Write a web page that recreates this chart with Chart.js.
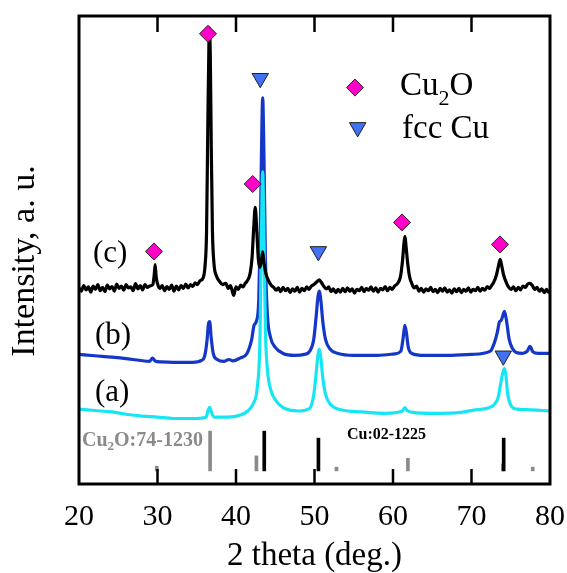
<!DOCTYPE html>
<html>
<head>
<meta charset="utf-8">
<script src="https://cdn.jsdelivr.net/npm/chart.js@4.4.1/dist/chart.umd.min.js"></script>
<style>
  html, body { margin: 0; padding: 0; background: #fff; }
  canvas { display: block; }
</style>
</head>
<body>
<canvas id="xrdChart" width="567" height="573"></canvas>
<script>
const SERIF = '"Liberation Serif", "Times New Roman", serif';

const tickValues = [20, 30, 40, 50, 60, 70, 80];

// XRD patterns, [2 theta, intensity a.u.]
// (a) cyan
const traceA = [
  [20, 16.0], [22, 15.7], [24.2, 15.4], [26, 14.9], [28, 14.5], [30, 14.3], [32, 14.0], [35, 14.0],
  [36.2, 14.3], [36.45, 15.8], [36.65, 16.4], [36.85, 15.4], [37.2, 14.3], [39, 14.3], [40.5, 14.7],
  [41.5, 15.6], [42.2, 17.2], [42.7, 20.5], [43.05, 30.7], [43.25, 54], [43.4, 66.7], [43.55, 54],
  [43.75, 32.8], [44.0, 24.5], [44.4, 20.3], [45.0, 18.0], [46.0, 16.3], [48, 15.6], [49.4, 16.2],
  [49.9, 19.0], [50.2, 23.5], [50.45, 27.7], [50.6, 28.8], [50.8, 27.1], [51.05, 22.8], [51.4, 19.2],
  [52, 17.1], [53.5, 15.8], [56, 15.4], [59, 15.1], [61.2, 15.6], [61.5, 16.3], [61.8, 15.7],
  [62.5, 15.3], [65, 15.1], [68, 15.2], [70.3, 15.8], [72.2, 16.3], [72.9, 17.0], [73.4, 18.5],
  [73.65, 20.8], [73.95, 23.5], [74.2, 24.7], [74.4, 23.0], [74.6, 19.4], [75.1, 16.6], [75.8, 16.0],
  [77, 15.9], [80, 15.6]
];
// (b) blue
const traceB = [
  [20, 27.7], [22, 27.4], [24.2, 27.1], [26.5, 26.7], [29.0, 26.2], [29.35, 26.9], [29.7, 26.3],
  [30.5, 26.1], [32, 26.0], [34.5, 26.0], [35.6, 26.4], [36.0, 27.3], [36.3, 30.5], [36.5, 34.3],
  [36.65, 34.7], [36.85, 31.1], [37.1, 27.9], [37.6, 26.6], [38.5, 26.2], [39.1, 26.6], [39.6, 26.3],
  [40.5, 26.9], [41.4, 27.9], [42.0, 30.9], [42.3, 33.9], [42.6, 34.8], [42.9, 39.4], [43.1, 54.4],
  [43.25, 71.4], [43.4, 82.5], [43.55, 71.4], [43.75, 48.0], [44.0, 36.2], [44.4, 31.3], [45.0, 29.2],
  [46.0, 27.9], [47.5, 27.5], [48.7, 27.7], [49.4, 28.4], [49.9, 30.9], [50.2, 35.6], [50.45, 40.1],
  [50.6, 41.2], [50.8, 39.4], [51.05, 34.8], [51.4, 30.9], [52.0, 28.8], [53.0, 27.9], [55, 27.5],
  [58, 27.5], [60.2, 27.8], [61.0, 28.4], [61.3, 31.3], [61.5, 33.9], [61.7, 32.4], [61.95, 29.2],
  [62.4, 27.9], [64, 27.5], [67, 27.5], [70, 27.7], [72.4, 28.4], [72.9, 30.1], [73.3, 32.5],
  [73.55, 34.6], [73.8, 35.0], [74.2, 36.9], [74.45, 35.0], [74.8, 30.9], [75.2, 29.0], [75.7, 28.1],
  [76.5, 27.9], [77.1, 28.4], [77.45, 29.4], [77.8, 28.3], [78.5, 27.9], [80, 27.9]
];
// (c) black, noisy
const traceC = [
  [20.0, 41.9], [20.3, 41.2], [20.6, 42.4], [20.9, 41.5], [21.2, 42.1], [21.5, 41.0], [21.8, 42.3],
  [22.1, 41.6], [22.4, 42.6], [22.7, 41.3], [23.0, 42.0], [23.3, 41.1], [23.6, 42.5], [23.9, 41.7],
  [24.2, 42.2], [24.5, 41.2], [24.8, 42.7], [25.1, 41.8], [25.4, 42.3], [25.7, 41.4], [26.0, 42.6],
  [26.3, 41.9], [26.6, 42.1], [26.9, 41.3], [27.2, 42.8], [27.5, 41.7], [27.8, 42.4], [28.1, 41.5],
  [28.4, 42.6], [28.7, 42.0], [29.0, 42.3], [29.4, 42.6], [29.58, 44.6], [29.7, 46.9], [29.82, 44.4],
  [30.0, 42.8], [30.3, 41.8], [30.6, 42.4], [30.9, 41.3], [31.2, 42.2], [31.5, 41.6], [31.8, 42.5],
  [32.1, 41.2], [32.4, 42.3], [32.7, 41.5], [33.0, 42.4], [33.3, 41.8], [33.6, 42.7], [33.9, 41.9],
  [34.2, 42.6], [34.5, 42.2], [34.8, 43.0], [35.1, 42.6], [35.4, 43.4], [35.8, 44.0], [36.05, 46.5],
  [36.25, 54], [36.4, 75], [36.55, 94], [36.62, 97.4], [36.72, 92], [36.85, 72], [37.0, 54],
  [37.2, 47], [37.5, 44.5], [37.9, 43.3], [38.3, 42.6], [38.7, 42.9], [39.0, 41.8], [39.3, 42.4],
  [39.7, 40.3], [40.0, 42.1], [40.3, 41.6], [40.6, 42.5], [40.9, 42.1], [41.15, 42.8], [41.4, 43.3],
  [41.8, 45.0], [42.05, 48.5], [42.25, 54.5], [42.45, 59.1], [42.65, 54], [42.85, 48], [43.05, 46.3],
  [43.25, 48.0], [43.4, 49.6], [43.55, 47.5], [43.8, 45.0], [44.1, 43.6], [44.5, 42.4], [44.8, 42.0],
  [45.1, 41.4], [45.4, 41.9], [45.7, 41.1], [46.0, 42.0], [46.3, 41.3], [46.6, 41.8], [46.9, 40.9],
  [47.2, 41.7], [47.5, 41.2], [47.8, 42.0], [48.1, 41.0], [48.4, 41.8], [48.7, 41.3], [49.0, 42.1],
  [49.3, 41.6], [49.6, 42.3], [49.9, 42.6], [50.3, 43.2], [50.6, 43.6], [50.9, 43.0], [51.2, 42.2],
  [51.5, 41.7], [51.8, 42.1], [52.1, 41.1], [52.4, 41.7], [52.7, 40.9], [53.0, 41.6], [53.3, 41.0],
  [53.6, 41.8], [53.9, 41.1], [54.2, 41.9], [54.5, 41.2], [54.8, 41.7], [55.1, 40.8], [55.4, 41.6],
  [55.7, 41.3], [56.0, 42.0], [56.3, 41.1], [56.6, 41.8], [56.9, 41.4], [57.2, 42.1], [57.5, 41.2],
  [57.8, 41.9], [58.1, 41.0], [58.4, 41.8], [58.7, 41.5], [59.0, 42.2], [59.3, 41.3], [59.6, 42.0],
  [59.9, 41.6], [60.2, 42.3], [60.6, 42.9], [60.95, 44.3], [61.2, 47.5], [61.4, 51.5], [61.52, 52.9],
  [61.65, 51], [61.85, 47.5], [62.1, 44.4], [62.4, 42.8], [62.7, 41.9], [63.0, 42.3], [63.3, 41.2],
  [63.6, 41.8], [63.9, 41.0], [64.2, 41.7], [64.5, 41.3], [64.8, 42.0], [65.1, 41.1], [65.4, 41.6],
  [65.7, 40.9], [66.0, 41.8], [66.3, 41.2], [66.6, 41.9], [66.9, 41.0], [67.2, 41.5], [67.5, 40.8],
  [67.8, 41.7], [68.1, 41.1], [68.4, 41.8], [68.7, 40.9], [69.0, 41.6], [69.3, 41.2], [69.6, 41.9],
  [69.9, 41.0], [70.2, 41.6], [70.5, 41.3], [70.8, 42.0], [71.1, 41.2], [71.4, 41.8], [71.7, 41.4],
  [72.0, 42.2], [72.3, 41.8], [72.55, 42.4], [72.8, 43.0], [73.15, 44.5], [73.4, 46.3], [73.65, 48.0],
  [73.85, 46.6], [74.1, 44.6], [74.45, 43.0], [74.75, 42.0], [75.05, 41.6], [75.35, 42.1], [75.65, 41.3],
  [75.95, 42.0], [76.25, 41.5], [76.55, 42.3], [76.85, 42.0], [77.15, 42.7], [77.45, 42.9], [77.75, 42.4],
  [78.05, 41.6], [78.35, 42.0], [78.65, 41.2], [78.95, 41.7], [79.25, 40.9], [79.55, 41.6], [79.8, 41.0],
  [80.0, 41.3]
];

// phase markers
const cu2oMarkTheta = [29.55, 36.43, 42.13, 61.15, 73.63];
const cu2oMarkY = [49.7, 96.2, 64.1, 55.9, 51.2];
const cuMarkTheta = [43.09, 50.49, 74.05];
const cuMarkY = [86.7, 49.7, 27.4];

// reference sticks (JCPDS)
const cu2oRefTheta = [29.9, 36.7, 42.6, 52.8, 61.9, 74.0, 77.8];
const cu2oRefTop = [3.8, 11.3, 6.0, 3.6, 5.5, 4.3, 3.6];
const cuRefTheta = [43.6, 50.5, 74.1];
const cuRefTop = [11.3, 9.8, 9.8];
const refBase = 2.8;

const MAGENTA = '#ff00c8';
const TRI_BLUE = '#4272f4';
const GREY = '#8a8a8a';

function toPoints(pairs) {
  return pairs.map(([x, y]) => ({ x, y }));
}

function sticks(thetas, tops) {
  return thetas.map((t, i) => ({ x: t, y: [refBase, tops[i]] }));
}

function drawMarker(ctx, style, x, y, r) {
  ctx.beginPath();
  if (style === 'diamond') {
    ctx.moveTo(x, y - r);
    ctx.lineTo(x + r, y);
    ctx.lineTo(x, y + r);
    ctx.lineTo(x - r, y);
  } else {
    const h = r * Math.sqrt(3) / 2;
    ctx.moveTo(x - h, y - r / 2);
    ctx.lineTo(x + h, y - r / 2);
    ctx.lineTo(x, y + r);
  }
  ctx.closePath();
  ctx.fill();
  ctx.stroke();
}

const decorPlugin = {
  id: 'decor',
  afterDraw(chart) {
    const { ctx, chartArea: a, scales: { x, y } } = chart;
    const px = (v) => x.getPixelForValue(v);
    const py = (v) => y.getPixelForValue(v);
    ctx.save();

    // frame + inward ticks top and bottom
    ctx.strokeStyle = '#000';
    ctx.fillStyle = '#000';
    ctx.lineWidth = 3;
    ctx.strokeRect(a.left, a.top, a.right - a.left, a.bottom - a.top);
    for (const t of tickValues.slice(1, -1)) {
      const tx = px(t);
      ctx.fillRect(tx - 1.25, a.bottom - 15, 2.5, 15);
      ctx.fillRect(tx - 1.25, a.top, 2.5, 16);
    }

    // y title
    ctx.font = '34px ' + SERIF;
    ctx.textAlign = 'center';
    ctx.textBaseline = 'middle';
    ctx.save();
    ctx.translate(25, 261);
    ctx.rotate(-Math.PI / 2);
    ctx.fillText('Intensity, a. u.', 0, 0);
    ctx.restore();

    // curve labels
    ctx.textAlign = 'left';
    ctx.font = '31px ' + SERIF;
    ctx.fillText('(c)', px(21.78), py(49.1));
    ctx.fillText('(b)', px(22.04), py(31.6));
    ctx.fillText('(a)', px(22.04), py(19.4));

    // reference card labels
    ctx.textBaseline = 'alphabetic';
    ctx.fillStyle = GREY;
    let cx = px(20.38);
    const by = py(8.1);
    ctx.font = 'bold 20px ' + SERIF;
    ctx.fillText('Cu', cx, by);
    cx += ctx.measureText('Cu').width;
    ctx.font = 'bold 13px ' + SERIF;
    ctx.fillText('2', cx, by + 4);
    cx += ctx.measureText('2').width;
    ctx.font = 'bold 20px ' + SERIF;
    ctx.fillText('O:74-1230', cx, by);

    ctx.fillStyle = '#000';
    ctx.font = 'bold 16px ' + SERIF;
    ctx.fillText('Cu:02-1225', px(54.14), py(9.55));

    // legend
    ctx.lineWidth = 1;
    ctx.strokeStyle = '#222';
    ctx.fillStyle = MAGENTA;
    drawMarker(ctx, 'diamond', px(55.16), py(84.7), 8.5);
    ctx.fillStyle = TRI_BLUE;
    drawMarker(ctx, 'triangle', px(55.5), py(76.2), 9.5);

    ctx.fillStyle = '#000';
    let lx = px(60.89);
    const ly = py(83.1);
    ctx.font = '33px ' + SERIF;
    ctx.fillText('Cu', lx, ly);
    lx += ctx.measureText('Cu').width;
    ctx.font = '22px ' + SERIF;
    ctx.fillText('2', lx, ly + 10);
    lx += ctx.measureText('2').width;
    ctx.font = '33px ' + SERIF;
    ctx.fillText('O', lx, ly);
    ctx.fillText('fcc Cu', px(61.15), py(73.9));

    ctx.restore();
  }
};

const lineStyle = {
  type: 'line',
  pointRadius: 0,
  fill: false,
  cubicInterpolationMode: 'monotone',
};

new Chart(document.getElementById('xrdChart'), {
  type: 'line',
  data: {
    datasets: [
      {
        type: 'line', label: 'Cu2O', showLine: false,
        data: cu2oMarkTheta.map((t, i) => ({ x: t, y: cu2oMarkY[i] })),
        pointStyle: 'rectRot', pointRadius: 8.5,
        pointBackgroundColor: MAGENTA, pointBorderColor: '#222', pointBorderWidth: 1,
      },
      {
        type: 'line', label: 'fcc Cu', showLine: false,
        data: cuMarkTheta.map((t, i) => ({ x: t, y: cuMarkY[i] })),
        pointStyle: 'triangle', pointRotation: 180, pointRadius: 9.5,
        pointBackgroundColor: TRI_BLUE, pointBorderColor: '#222', pointBorderWidth: 1,
      },
      { ...lineStyle, label: '(c)', data: toPoints(traceC), borderColor: '#000', borderWidth: 3.2 },
      { ...lineStyle, label: '(a)', data: toPoints(traceA), borderColor: '#16e6f4', borderWidth: 3.2 },
      { ...lineStyle, label: '(b)', data: toPoints(traceB), borderColor: '#1437c8', borderWidth: 3.2 },
      {
        type: 'bar', label: 'Cu:02-1225', data: sticks(cuRefTheta, cuRefTop),
        backgroundColor: '#000', barThickness: 3, grouped: false,
      },
      {
        type: 'bar', label: 'Cu2O:74-1230', data: sticks(cu2oRefTheta, cu2oRefTop),
        backgroundColor: GREY, barThickness: 3, grouped: false,
      },
    ],
  },
  options: {
    responsive: false,
    animation: false,
    layout: { padding: { left: 0, right: 17, top: 16, bottom: 0 } },
    plugins: {
      legend: { display: false },
      tooltip: { enabled: false },
    },
    scales: {
      x: {
        type: 'linear',
        min: 20,
        max: 80,
        offset: false,
        afterBuildTicks: (scale) => { scale.ticks = tickValues.map((v) => ({ value: v })); },
        ticks: { color: '#000', font: { family: SERIF, size: 30 }, padding: 15, maxRotation: 0, autoSkip: false },
        grid: { display: false, drawTicks: false, offset: false },
        border: { display: false },
        title: {
          display: true,
          text: '2 theta (deg.)',
          color: '#000',
          font: { family: SERIF, size: 33, lineHeight: 1 },
          padding: { top: 0, bottom: 0 },
        },
        afterFit: (scale) => {
          scale.height = 89;
          scale.paddingLeft = 0;
          scale.paddingRight = 0;
        },
      },
      y: {
        min: 0,
        max: 100,
        ticks: { display: false },
        grid: { display: false, drawTicks: false },
        border: { display: false },
        afterFit: (scale) => { scale.width = 79; },
      },
    },
  },
  plugins: [decorPlugin],
});
</script>
</body>
</html>
